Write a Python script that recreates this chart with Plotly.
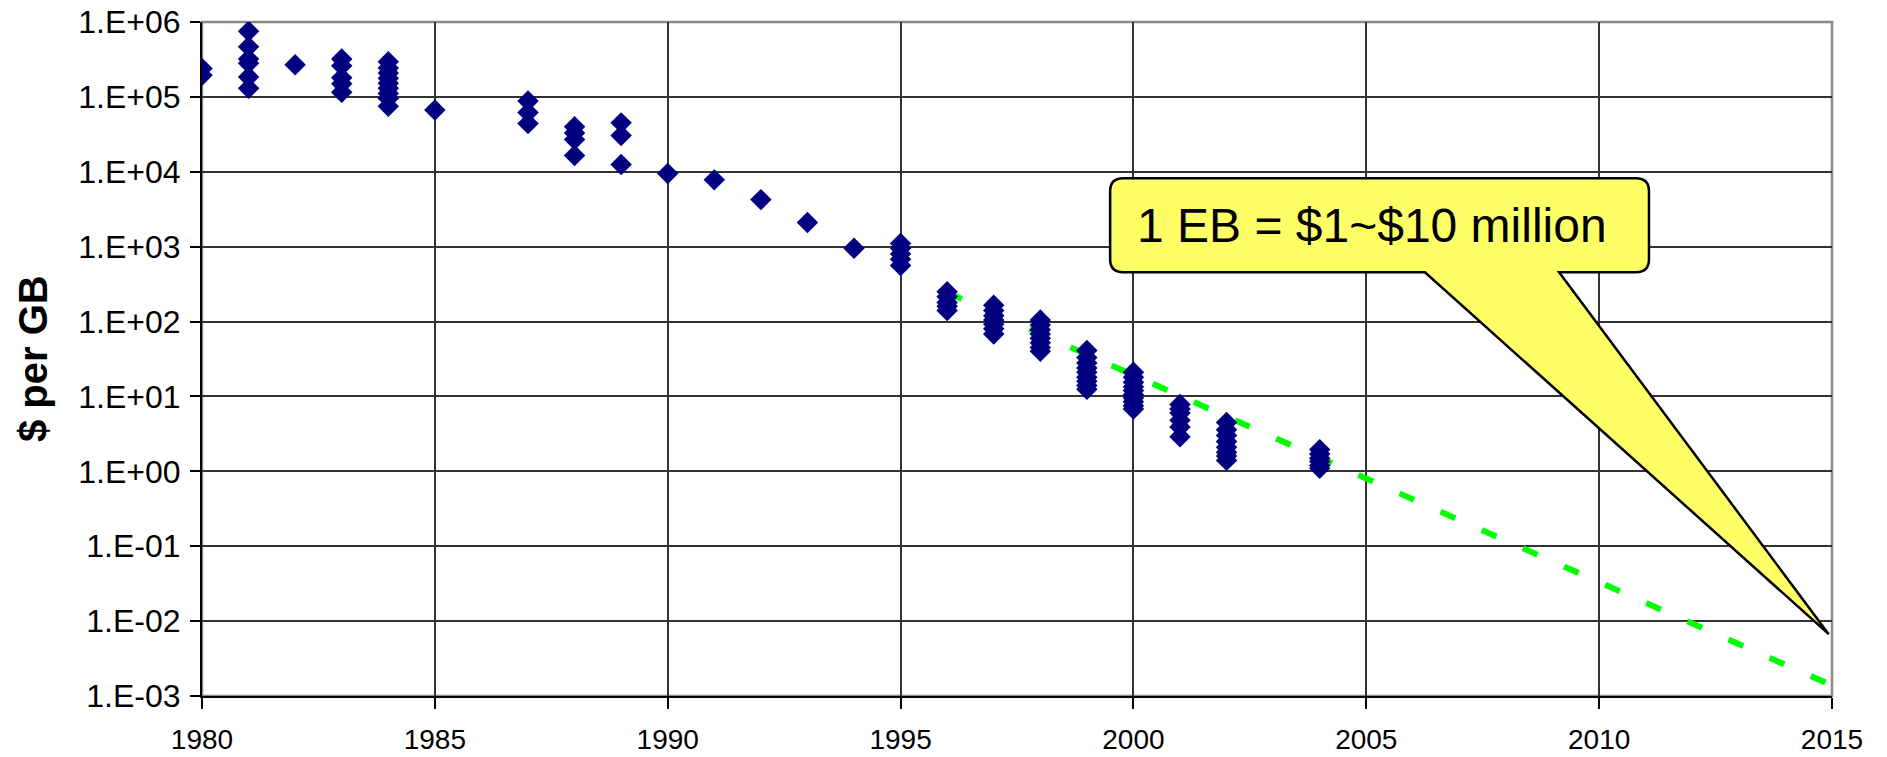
import math
import plotly.graph_objects as go

# ---------------- data ----------------
years = (
    [1980] * 2 + [1981] * 6 + [1982] + [1983] * 5 + [1984] * 9 + [1985]
    + [1987] * 3 + [1988] * 4 + [1989] * 3 + [1990, 1991, 1992, 1993, 1994]
    + [1995] * 5 + [1996] * 5 + [1997] * 7 + [1998] * 8 + [1999] * 9
    + [2000] * 10 + [2001] * 6 + [2002] * 8 + [2004] * 6
)
price_per_gb = [
    240000, 195000,
    754000, 467000, 320000, 282000, 185000, 130000,
    268000,
    320000, 260000, 180000, 150000, 115000,
    294000, 244000, 208000, 178000, 152000, 130000, 111000, 95000, 75000,
    67000,
    88000, 62000, 44000,
    40000, 33000, 27000, 16500,
    45000, 30500, 12500,
    9500, 7800, 4250, 2100, 950,
    1100, 950, 800, 680, 560,
    250, 215, 180, 160, 140,
    165, 140, 120, 105, 92, 80, 68,
    105, 90, 78, 68, 60, 52, 45, 40,
    41, 33, 28, 24, 21, 18, 16, 14, 12.5,
    21, 18, 15.5, 13.5, 12, 10.5, 9.5, 8.5, 7.5, 6.8,
    7.8, 6.8, 6.0, 4.8, 3.9, 2.9,
    4.5, 3.6, 3.0, 2.5, 2.1, 1.8, 1.6, 1.4,
    1.95, 1.7, 1.5, 1.35, 1.2, 1.1,
]

trend_years = [1996, 2015]
trend_values = [245, 0.00138]

x_ticks = [1980, 1985, 1990, 1995, 2000, 2005, 2010, 2015]
y_tickvals = [1e6, 1e5, 1e4, 1e3, 1e2, 1e1, 1e0, 1e-1, 1e-2, 1e-3]
y_ticktext = ["1.E+06", "1.E+05", "1.E+04", "1.E+03", "1.E+02",
              "1.E+01", "1.E+00", "1.E-01", "1.E-02", "1.E-03"]

callout_text = "1 EB = $1~$10 million"
callout_box_years = [1999.5, 2011.07]
callout_box_values = [455, 8200]
callout_tail_years = [2006.26, 2009.14]
callout_tip = (2014.93, 0.0067)

# ---------------- layout constants ----------------
W, H = 1887, 757
ML, MT = 202, 22
PW, PH = 1630, 674
MR, MB = W - ML - PW, H - MT - PH
X_RANGE = [1980, 2015]
Y_RANGE = [-3, 6]
FONT = "Liberation Sans, Arial, Helvetica, sans-serif"


def xp(year):
    return (year - X_RANGE[0]) / (X_RANGE[1] - X_RANGE[0])


def yp(value):
    return (math.log10(value) - Y_RANGE[0]) / (Y_RANGE[1] - Y_RANGE[0])


fig = go.Figure()

fig.add_trace(go.Scatter(
    x=trend_years, y=trend_values, mode="lines",
    line=dict(color="#00FF00", width=6, dash="16px,29px"),
    hoverinfo="skip", showlegend=False,
))

fig.add_trace(go.Scatter(
    x=years, y=price_per_gb, mode="markers",
    marker=dict(symbol="diamond", size=16.5, color="#000080", line=dict(width=0)),
    showlegend=False,
))

# plot-area frame (grey, top/right visible)
fig.add_shape(type="rect", xref="paper", yref="paper", x0=0, y0=0, x1=1, y1=1,
              line=dict(color="#8a8a8a", width=2.5), layer="below")

# callout bubble
x0, x1 = xp(callout_box_years[0]), xp(callout_box_years[1])
yb, yt = yp(callout_box_values[0]), yp(callout_box_values[1])
rx, ry = 13 / PW, 13 / PH
tb1, tb2 = xp(callout_tail_years[0]), xp(callout_tail_years[1])
tx, ty = xp(callout_tip[0]), yp(callout_tip[1])
path = (
    f"M {x0+rx},{yt} L {x1-rx},{yt} Q {x1},{yt} {x1},{yt-ry} "
    f"L {x1},{yb+ry} Q {x1},{yb} {x1-rx},{yb} "
    f"L {tb2},{yb} L {tx},{ty} L {tb1},{yb} "
    f"L {x0+rx},{yb} Q {x0},{yb} {x0},{yb+ry} "
    f"L {x0},{yt-ry} Q {x0},{yt} {x0+rx},{yt} Z"
)
fig.add_shape(type="path", xref="paper", yref="paper", path=path,
              fillcolor="#FFFF66", line=dict(color="black", width=2.5), layer="above")

fig.add_annotation(
    xref="paper", yref="paper", x=x0 + 25 / PW, y=(yt + yb) / 2,
    xanchor="left", yanchor="middle", showarrow=False,
    text=callout_text, font=dict(family=FONT, size=48, color="black"),
)

# y-axis title
fig.add_annotation(
    xref="paper", yref="paper", x=-(ML - 33) / PW, y=0.5,
    xanchor="center", yanchor="middle", showarrow=False, textangle=-90,
    text="<b>$ per GB</b>", font=dict(family=FONT, size=40, color="black"),
)

fig.update_layout(
    width=W, height=H,
    margin=dict(l=ML, r=MR, t=MT, b=MB, pad=0, autoexpand=False),
    paper_bgcolor="white", plot_bgcolor="white",
    showlegend=False,
    xaxis=dict(
        range=X_RANGE, tickvals=x_ticks, ticktext=[str(v) for v in x_ticks],
        showgrid=True, gridcolor="#333333", gridwidth=1.8,
        showline=True, linecolor="black", linewidth=2,
        ticks="outside", ticklen=11, tickwidth=2, tickcolor="black",
        tickfont=dict(family=FONT, size=28, color="black"),
        ticklabelstandoff=6,
        zeroline=False, automargin=False, ticklabeloverflow="allow",
    ),
    yaxis=dict(
        type="log", range=Y_RANGE, tickvals=y_tickvals, ticktext=y_ticktext,
        showgrid=True, gridcolor="#333333", gridwidth=1.8,
        showline=True, linecolor="black", linewidth=2,
        ticks="outside", ticklen=10, tickwidth=2, tickcolor="black",
        tickfont=dict(family=FONT, size=32, color="black"),
        ticklabelstandoff=3,
        zeroline=False, automargin=False, ticklabeloverflow="allow",
    ),
)

fig.write_html(
    "out.html",
    config={"displayModeBar": False},
    post_script="document.body.style.margin='0';document.body.style.overflow='hidden';",
)
